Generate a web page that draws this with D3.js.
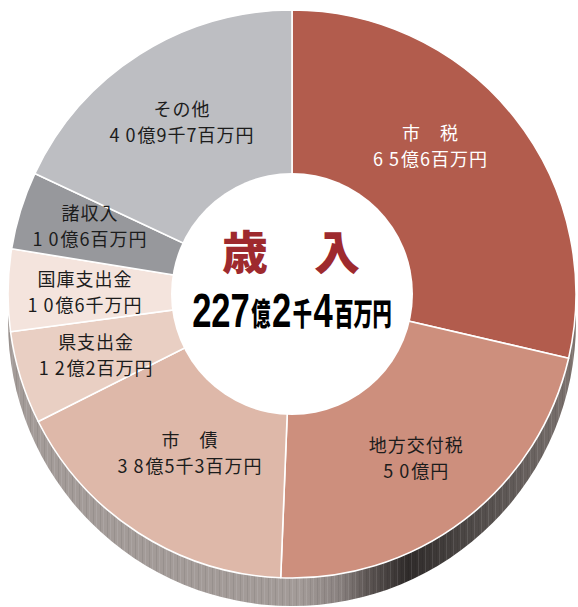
<!DOCTYPE html>
<html><head><meta charset="utf-8">
<script src="https://cdn.jsdelivr.net/npm/d3@7"></script>
<style>
html,body{margin:0;padding:0;background:#fff;}
svg{display:block;}
</style></head>
<body>
<svg id="chart" width="578" height="607"></svg>
<script>
// ---- data (百万円) ----
const categories = ["市税", "地方交付税", "市債", "県支出金", "国庫支出金", "諸収入", "その他"];
const values = [6506, 5000, 3853, 1202, 1060, 1006, 4097];
const nameLabels = ["市　税", "地方交付税", "市　債", "県支出金", "国庫支出金", "諸収入", "その他"];
const amountLabels = ["65億6百万円", "50億円", "38億5千3百万円", "12億2百万円", "10億6千万円", "10億6百万円", "40億9千7百万円"];
const colors = ["#b25c4d", "#cd8f7d", "#deb8a9", "#e9cfc3", "#f4e4dd", "#97989c", "#bdbec2"];
const titleText = "歳　入";
const totalText = "227億2千4百万円";

// ---- layout ----
const W = 578, H = 607;
const cx = 292, cy = 294, R = 284, r0 = 121, depth = 28;
const labelR = 205;
const labelShift = [[-22, -21], [0, 0], [9, -14], [0, 0], [-2, 0], [-6, -9], [0, 0]];

const svg = d3.select("#chart");
const defs = svg.append("defs");

// side gradient
const grad = defs.append("linearGradient").attr("id", "sideGrad")
  .attr("gradientUnits", "userSpaceOnUse").attr("x1", cx - R).attr("x2", cx + R).attr("y1", 0).attr("y2", 0);
[[0, "#a39b98"], [0.07, "#8a8280"], [0.12, "#5c5553"], [0.19, "#2f2b2a"], [0.3, "#4e4947"],
 [0.45, "#746c69"], [0.5, "#847671"], [0.62, "#9a7f76"], [0.75, "#a9887e"], [0.88, "#b38c82"],
 [0.96, "#a87a70"], [1, "#9c675d"]].forEach(([o, c]) => grad.append("stop").attr("offset", o).attr("stop-color", c));

// stripe pattern for side texture
const pat = defs.append("pattern").attr("id", "stripes").attr("patternUnits", "userSpaceOnUse")
  .attr("width", 7).attr("height", 10);
pat.append("rect").attr("x", 0).attr("y", 0).attr("width", 1).attr("height", 10).attr("fill", "#fff").attr("opacity", 0.1);
pat.append("rect").attr("x", 4).attr("y", 0).attr("width", 1).attr("height", 10).attr("fill", "#000").attr("opacity", 0.07);

const g = svg.append("g").attr("transform", `translate(${cx},${cy})`);

// side wall (lower half of cylinder)
const sidePath = `M${-R},0 A${R},${R} 0 0 0 ${R},0 L${R},${depth} A${R},${R} 0 0 1 ${-R},${depth} Z`;
g.append("path").attr("d", sidePath).attr("fill", "url(#sideGrad)");
g.append("path").attr("d", sidePath).attr("fill", "url(#stripes)");

// pie
const pie = d3.pie().sort(null).value(d => d.value);
const data = pie(categories.map((c, i) => ({ name: c, value: values[i], i })));
const arc = d3.arc().innerRadius(0).outerRadius(R);

g.selectAll("path.slice").data(data).join("path")
  .attr("class", "slice")
  .attr("d", arc)
  .attr("fill", d => colors[d.data.i])
  .attr("stroke", "#fff").attr("stroke-width", 1.6).attr("stroke-linejoin", "round");

// white centre
g.append("circle").attr("r", r0).attr("fill", "#fff");

// labels
const labelArc = d3.arc().innerRadius(labelR).outerRadius(labelR);
const fontJP = "'Noto Sans CJK JP', 'Noto Sans', sans-serif";
data.forEach(d => {
  const i = d.data.i;
  const [lx, ly] = labelArc.centroid(d);
  const x = lx + labelShift[i][0], y = ly + labelShift[i][1];
  const fill = i === 0 ? "#ffffff" : "#1c1c1c";
  g.append("text").attr("x", x).attr("y", y - 13)
    .attr("text-anchor", "middle").attr("dominant-baseline", "central")
    .attr("font-family", fontJP).attr("font-size", 18).attr("letter-spacing", "1px")
    .attr("fill", fill).text(nameLabels[i]);
  // amount: digits before 億 are spaced
  const s = amountLabels[i];
  const t = g.append("text").attr("x", x).attr("y", y + 13)
    .attr("text-anchor", "middle").attr("dominant-baseline", "central")
    .attr("font-family", fontJP).attr("font-size", 18).attr("letter-spacing", "1px")
    .attr("fill", fill);
  const m = s.match(/^(\d+)(.*)$/);
  const digits = m[1], rest = m[2];
  t.append("tspan").attr("letter-spacing", "6px").text(digits.slice(0, -1));
  t.append("tspan").attr("letter-spacing", "2px").text(digits.slice(-1));
  t.append("tspan").text(rest);
});

// title
g.append("text").attr("x", -1).attr("y", -45)
  .attr("text-anchor", "middle").attr("dominant-baseline", "central")
  .attr("font-family", fontJP).attr("font-weight", 900).attr("font-size", 46)
  .attr("fill", "#9e2a2e").text(titleText);

// total, built from digit / kanji runs
const runs = totalText.match(/\d+|\D+/g);
const tg = g.append("g");
const parts = runs.map(run => {
  const isNum = /\d/.test(run);
  const sx = isNum ? 0.72 : 0.62;
  const el = tg.append("text")
    .attr("font-family", isNum ? "'Liberation Sans', Arial, sans-serif" : fontJP)
    .attr("font-weight", isNum ? 700 : 900)
    .attr("font-size", isNum ? 48 : 31)
    .attr("fill", "#000").text(run);
  const w = el.node().getComputedTextLength() * sx;
  return { el, w, sx, isNum };
});
const gap = 1.5;
const totalW = d3.sum(parts, p => p.w) + gap * (parts.length - 1);
let xx = -totalW / 2;
const baseY = 33;
parts.forEach(p => {
  p.el.attr("transform", `translate(${xx},${p.isNum ? baseY : baseY - 2}) scale(${p.sx},1)`);
  xx += p.w + gap;
});
</script>
</body></html>
